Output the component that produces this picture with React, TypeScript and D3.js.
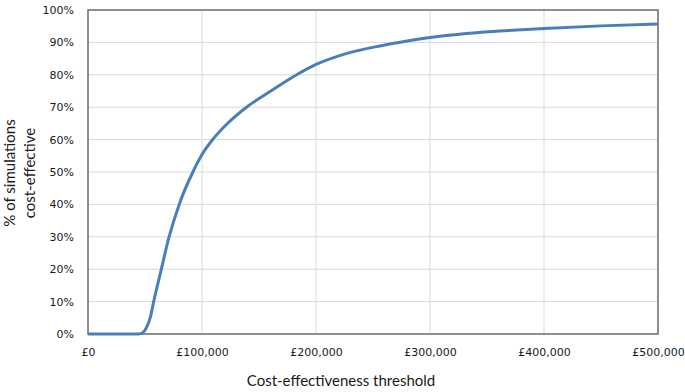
import React, { useEffect, useRef } from "react";
import * as d3 from "d3";

// threshold (£) and % of simulations cost-effective
const thresholds = [
  0, 20000, 44000, 47000, 50000, 53000, 55000, 57000, 64000, 71000, 80000,
  92000, 100000, 110000, 123000, 139000, 160000, 183000, 200000, 225000,
  256000, 275000, 300000, 330000, 361000, 400000, 450000, 500000,
];
const pctCostEffective = [
  0, 0, 0, 0.2, 1.2, 3.4, 5.6, 9, 19.5, 29.8, 40, 50, 55.4, 60.3, 65.2, 70,
  74.9, 80, 83.2, 86.4, 88.9, 90.1, 91.5, 92.7, 93.5, 94.3, 95.1, 95.7,
];
const xTicks = [0, 100000, 200000, 300000, 400000, 500000];
const yTicks = [0, 10, 20, 30, 40, 50, 60, 70, 80, 90, 100];

const W = 685;
const H = 392;
const margin = { top: 10, right: 27, bottom: 58, left: 88 };

export default function App() {
  const svgRef = useRef<SVGSVGElement>(null);

  useEffect(() => {
    const svg = d3.select(svgRef.current);
    svg.selectAll("*").remove();

    const iw = W - margin.left - margin.right;
    const ih = H - margin.top - margin.bottom;

    const x = d3.scaleLinear().domain([0, 500000]).range([0, iw]);
    const y = d3.scaleLinear().domain([0, 100]).range([ih, 0]);

    const g = svg
      .append("g")
      .attr("transform", `translate(${margin.left},${margin.top})`);

    // gridlines
    g.selectAll(".hgrid")
      .data(yTicks)
      .join("line")
      .attr("x1", 0)
      .attr("x2", iw)
      .attr("y1", (d) => y(d))
      .attr("y2", (d) => y(d))
      .style("stroke", "#d9d9d9")
      .style("stroke-width", 1);

    g.selectAll(".vgrid")
      .data(xTicks)
      .join("line")
      .attr("x1", (d) => x(d))
      .attr("x2", (d) => x(d))
      .attr("y1", 0)
      .attr("y2", ih)
      .style("stroke", "#d9d9d9")
      .style("stroke-width", 1);

    // plot border
    g.append("rect")
      .attr("width", iw)
      .attr("height", ih)
      .style("fill", "none")
      .style("stroke", "#6f6f6f")
      .style("stroke-width", 1.5);

    // axes
    const xAxis = d3
      .axisBottom(x)
      .tickValues(xTicks)
      .tickSize(0)
      .tickPadding(14)
      .tickFormat((d) => "£" + d3.format(",")(d as number));

    g.append("g")
      .attr("transform", `translate(0,${ih})`)
      .call(xAxis)
      .call((a) => a.select(".domain").remove())
      .selectAll("text")
      .style("font-family", "'DejaVu Sans', Verdana, sans-serif")
      .style("font-size", "11px")
      .style("fill", "#1a1a1a");

    const yAxis = d3
      .axisLeft(y)
      .tickValues(yTicks)
      .tickSize(0)
      .tickPadding(14)
      .tickFormat((d) => d + "%");

    g.append("g")
      .call(yAxis)
      .call((a) => a.select(".domain").remove())
      .selectAll("text")
      .style("font-family", "'DejaVu Sans', Verdana, sans-serif")
      .style("font-size", "11px")
      .style("fill", "#1a1a1a");

    // curve
    const line = d3
      .line<number>()
      .x((d, i) => x(thresholds[i]))
      .y((d) => y(d))
      .curve(d3.curveMonotoneX);

    g.append("path")
      .datum(pctCostEffective)
      .attr("d", line)
      .style("fill", "none")
      .style("stroke", "#4a7ebb")
      .style("stroke-width", 3)
      .style("stroke-linejoin", "round");

    // axis titles
    svg
      .append("text")
      .attr("x", 341)
      .attr("y", 386)
      .attr("text-anchor", "middle")
      .style("font-family", "Lato, 'Open Sans', sans-serif")
      .style("font-size", "15px")
      .style("fill", "#1a1a1a")
      .text("Cost-effectiveness threshold");

    const yt = svg
      .append("text")
      .attr("transform", "translate(0,173) rotate(-90)")
      .attr("text-anchor", "middle")
      .style("font-family", "Lato, 'Open Sans', sans-serif")
      .style("font-size", "15px")
      .style("fill", "#1a1a1a");
    yt.append("tspan").attr("x", 0).attr("y", 15).text("% of simulations");
    yt.append("tspan").attr("x", 0).attr("y", 35).text("cost-effective");
  }, []);

  return (
    <svg
      ref={svgRef}
      width={W}
      height={H}
      style={{ position: "absolute", left: 0, top: 0, background: "#fff" }}
    ></svg>
  );
}
